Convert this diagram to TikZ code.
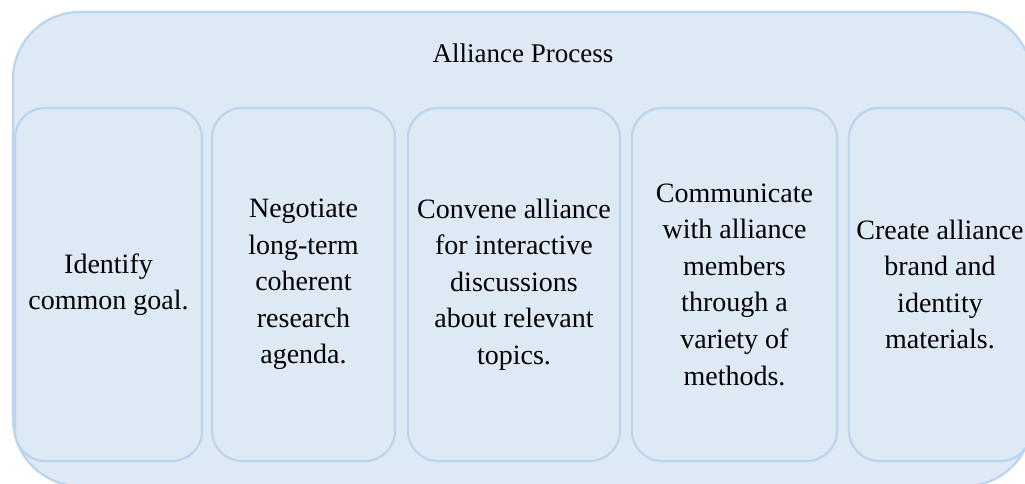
\documentclass[tikz,border=0pt]{standalone}
\usepackage{fontspec}
\setmainfont{Liberation Serif}
\definecolor{boxfill}{RGB}{221,233,245}
\definecolor{boxline}{RGB}{186,213,237}
\begin{document}
\begin{tikzpicture}[x=1pt,y=-1pt,
  outerbox/.style={draw=boxline, fill=boxfill, line width=2.2pt, rounded corners=67pt, inner sep=0pt},
  stepbox/.style={draw=boxline, fill=boxfill, line width=2.2pt, rounded corners=30pt, minimum height=353pt, inner sep=0pt, align=center,
    font=\fontsize{28}{36.6}\selectfont},
  titletext/.style={font=\fontsize{27}{33}\selectfont, inner sep=0pt}]
\useasboundingbox (0,0) rectangle (1025,484);
\clip (0,0) rectangle (1025,484);
\node[outerbox, minimum width=1019pt, minimum height=474pt] (alliance) at (522.5,249) {};
\node[titletext] (title) at (523,53) {Alliance Process};
\node[stepbox, minimum width=187pt] (s1) at (108.5,284.5) {Identify\\common goal.};
\node[stepbox, minimum width=183pt] (s2) at (303.5,284.5) {Negotiate\\long-term\\coherent\\research\\agenda.};
\node[stepbox, minimum width=212pt] (s3) at (514,284.5) {Convene alliance\\for interactive\\discussions\\about relevant\\topics.};
\node[stepbox, minimum width=205pt] (s4) at (734.5,284.5) {Communicate\\with alliance\\members\\through a\\variety of\\methods.};
\node[stepbox, minimum width=182pt] (s5) at (940,284.5) {Create alliance\\brand and\\identity\\materials.};
\end{tikzpicture}
\end{document}
